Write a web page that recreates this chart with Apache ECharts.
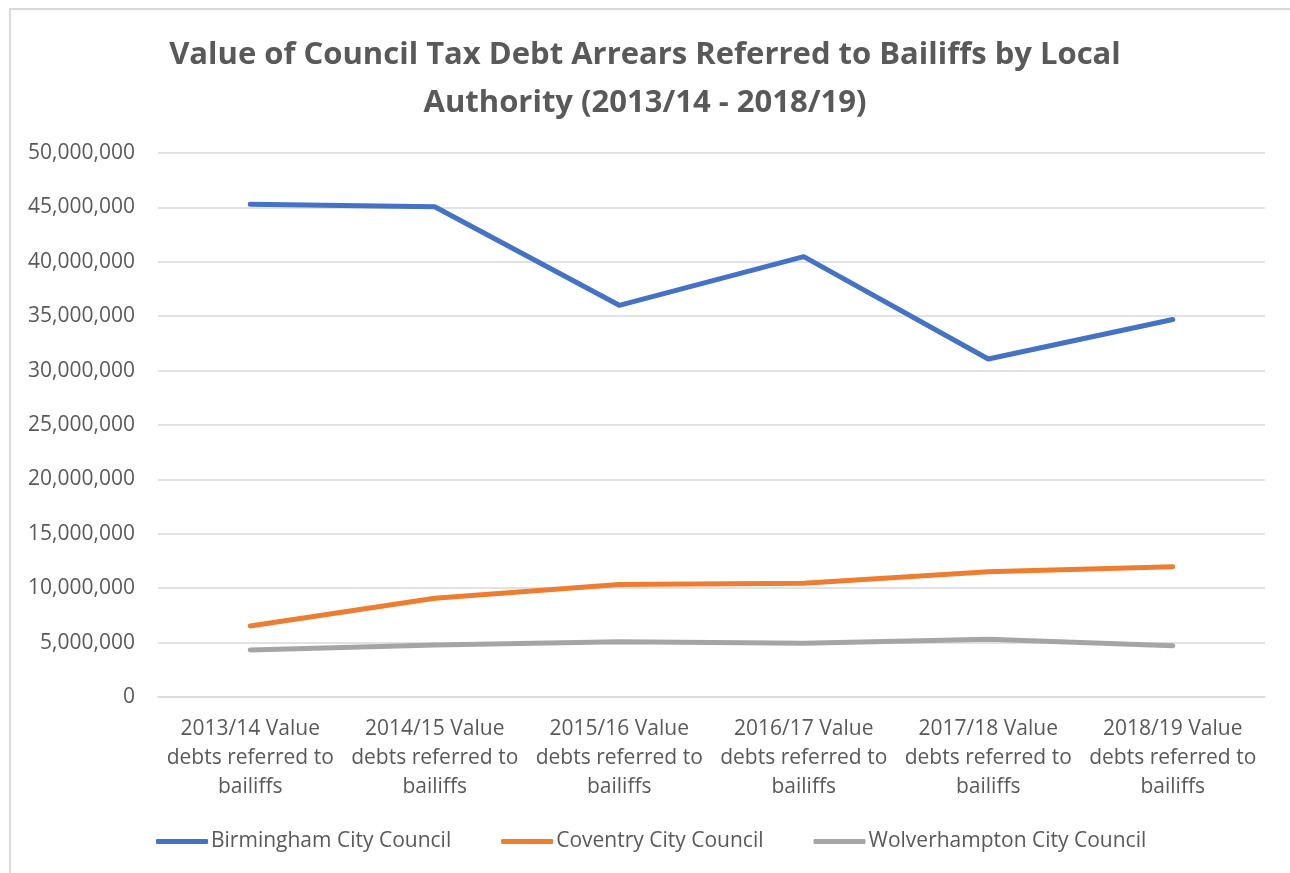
<!DOCTYPE html>
<html>
<head>
<meta charset="utf-8">
<script src="https://cdn.jsdelivr.net/npm/echarts@6/dist/echarts.min.js"></script>
<style>
html,body{margin:0;padding:0;background:#fff;}
#frame{position:absolute;left:9px;top:8px;width:1300px;height:880px;border-left:2px solid #d9d9d9;border-top:2px solid #d9d9d9;}
#chart{position:absolute;left:0;top:0;width:1290px;height:873px;}
</style>
</head>
<body>
<div id="frame"></div>
<div id="chart"></div>
<script>
const titleText = 'Value of Council Tax Debt Arrears Referred to Bailiffs by Local\nAuthority (2013/14 - 2018/19)';
const categories = [
  '2013/14 Value debts referred to bailiffs',
  '2014/15 Value debts referred to bailiffs',
  '2015/16 Value debts referred to bailiffs',
  '2016/17 Value debts referred to bailiffs',
  '2017/18 Value debts referred to bailiffs',
  '2018/19 Value debts referred to bailiffs'
];
const seriesNames = ['Birmingham City Council', 'Coventry City Council', 'Wolverhampton City Council'];
const birmingham = [45280000, 45060000, 36000000, 40470000, 31070000, 34700000];
const coventry = [6530000, 9070000, 10350000, 10450000, 11520000, 11980000];
const wolverhampton = [4320000, 4780000, 5080000, 4930000, 5300000, 4720000];
const colors = ['#4472c4', '#ed7d31', '#a5a5a5'];

const chart = echarts.init(document.getElementById('chart'), null, {renderer: 'canvas'});
const txt = '#595959';
const mk = (name, data, color) => ({
  name, type: 'line', data, symbol: 'none', showSymbol: false,
  lineStyle: {color, width: 5, cap: 'round', join: 'round'},
  itemStyle: {color}
});
chart.setOption({
  animation: false,
  title: {
    text: titleText, left: 'center', top: 26,
    textStyle: {fontFamily: '"Open Sans", sans-serif', fontWeight: 'bold', fontSize: 31, color: txt, lineHeight: 48}
  },
  legend: {
    data: seriesNames, left: 151, top: 826, icon: 'roundRect', itemWidth: 52, itemHeight: 5, itemGap: 50,
    textStyle: {fontFamily: '"Open Sans", sans-serif', fontSize: 21, color: txt, padding: [0,0,0,-2]}
  },
  grid: {left: 158, right: 25, top: 153, bottom: 176, containLabel: false},
  xAxis: {
    type: 'category', data: categories, boundaryGap: true,
    axisLine: {lineStyle: {color: '#d9d9d9', width: 1.5}},
    axisTick: {show: false},
    axisLabel: {
      interval: 0, margin: 18, color: txt, fontFamily: '"Open Sans", sans-serif', fontSize: 21, lineHeight: 29, align: 'center',
      formatter: v => v.replace(' Value ', ' Value\n').replace(' to ', ' to\n')
    }
  },
  yAxis: {
    type: 'value', min: 0, max: 50000000, interval: 5000000,
    axisLine: {show: false}, axisTick: {show: false},
    splitLine: {lineStyle: {color: '#d9d9d9', width: 1.5}},
    axisLabel: {
      margin: 23, color: txt, fontFamily: '"Open Sans", sans-serif', fontSize: 21,
      formatter: v => v.toLocaleString('en-US')
    }
  },
  series: [mk(seriesNames[0], birmingham, colors[0]), mk(seriesNames[1], coventry, colors[1]), mk(seriesNames[2], wolverhampton, colors[2])]
});
</script>
</body>
</html>
